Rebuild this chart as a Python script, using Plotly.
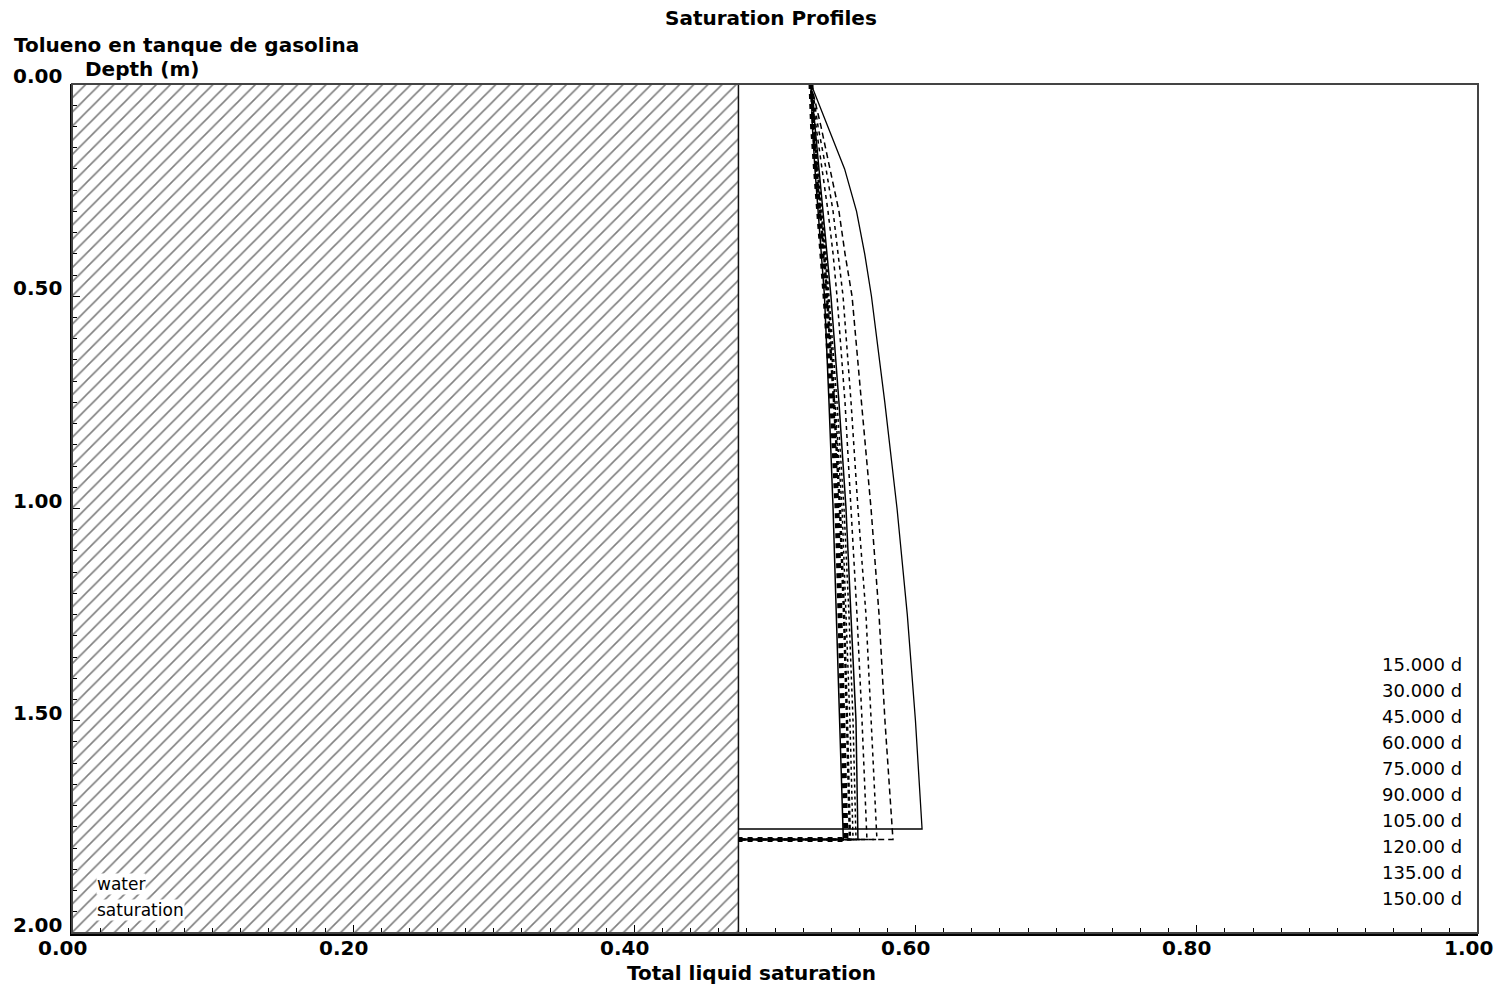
import plotly.graph_objects as go

# Simulation times (days) and their labels
time_labels = ["15.000 d", "30.000 d", "45.000 d", "60.000 d", "75.000 d",
               "90.000 d", "105.00 d", "120.00 d", "135.00 d", "150.00 d"]

# Depths (m) at which the profiles are sampled
depth_grid = [0.0, 0.05, 0.1, 0.2, 0.3, 0.4, 0.5, 0.75, 1.0, 1.25, 1.5]

# Depth of the bottom of each profile (m)
bottom_depth = [1.755, 1.78, 1.78, 1.78, 1.78, 1.78, 1.78, 1.78, 1.78, 1.78]

# Total liquid saturation for each time, at depth_grid then at bottom_depth
sat_15 = [0.5256, 0.5316, 0.5371, 0.5495, 0.5580, 0.5638, 0.5686, 0.5781, 0.5868, 0.5941, 0.5999, 0.6046]
sat_30 = [0.5256, 0.5292, 0.5327, 0.5391, 0.5455, 0.5498, 0.5548, 0.5615, 0.5683, 0.5740, 0.5782, 0.5839]
sat_45 = [0.5256, 0.5284, 0.5306, 0.5363, 0.5413, 0.5448, 0.5484, 0.5541, 0.5590, 0.5647, 0.5683, 0.5725]
sat_60 = [0.5256, 0.5277, 0.5292, 0.5334, 0.5377, 0.5413, 0.5441, 0.5498, 0.5541, 0.5583, 0.5619, 0.5654]
sat_75 = [0.5256, 0.5270, 0.5284, 0.5313, 0.5341, 0.5370, 0.5398, 0.5455, 0.5505, 0.5540, 0.5576, 0.5590]
sat_90 = [0.5256, 0.5267, 0.5277, 0.5306, 0.5334, 0.5363, 0.5384, 0.5441, 0.5491, 0.5526, 0.5555, 0.5576]
sat_105 = [0.5256, 0.5263, 0.5274, 0.5299, 0.5327, 0.5356, 0.5377, 0.5427, 0.5477, 0.5505, 0.5533, 0.5555]
sat_120 = [0.5256, 0.5263, 0.5270, 0.5292, 0.5320, 0.5349, 0.5370, 0.5420, 0.5462, 0.5491, 0.5512, 0.5533]
sat_135 = [0.5256, 0.5260, 0.5267, 0.5288, 0.5313, 0.5334, 0.5356, 0.5405, 0.5441, 0.5462, 0.5484, 0.5505]
sat_150 = [0.5256, 0.5260, 0.5266, 0.5284, 0.5306, 0.5330, 0.5352, 0.5384, 0.5413, 0.5436, 0.5462, 0.5486]

profiles = [sat_15, sat_30, sat_45, sat_60, sat_75, sat_90, sat_105, sat_120, sat_135, sat_150]

# Residual water saturation (hatched band)
water_sat = 0.474

# Axis tick values
x_ticks = [0.0, 0.2, 0.4, 0.6, 0.8, 1.0]
y_ticks = [0.0, 0.5, 1.0, 1.5, 2.0]

# Pen styles for the profiles
styles = [
    dict(width=1.3, dash="solid"),
    dict(width=1.5, dash="6px,4px"),
    dict(width=1.5, dash="4px,4px"),
    dict(width=1.5, dash="4px,4px"),
    dict(width=1.5, dash="solid"),
    dict(width=1.5, dash="3px,3px"),
    dict(width=1.5, dash="3px,3px"),
    dict(width=2.5, dash="4px,3px"),
    dict(width=5.0, dash="5px,5px"),
    dict(width=1.5, dash="solid"),
]

FONT = "DejaVu Sans"
BOLD = dict(family=FONT, size=20, color="black", weight="bold")
fig = go.Figure()

# Hatched water-saturation region
fig.add_trace(go.Scatter(
    x=[0, water_sat, water_sat, 0, 0], y=[0, 0, 2, 2, 0],
    mode="lines", fill="toself",
    fillcolor="white",
    fillpattern=dict(shape="/", size=10, solidity=0.16, fgcolor="black", bgcolor="white"),
    line=dict(color="#111", width=1.5),
    hoverinfo="skip", showlegend=False,
))

for name, sat, bot, st in zip(time_labels, profiles, bottom_depth, styles):
    xs = list(sat) + [water_sat]
    ys = list(depth_grid) + [bot, bot]
    fig.add_trace(go.Scatter(
        x=xs, y=ys, mode="lines", name=name,
        line=dict(color="black", width=st["width"], dash=st["dash"]),
        showlegend=False,
    ))

W, H = 1505, 990
ML, MR, MT, MB = 72, 27, 84, 57
pw, ph = W - ML - MR, H - MT - MB


def px(xp):
    return (xp - ML) / pw


def py(yp):
    return (H - MB - yp) / ph


annotations = []
# Tick labels
for v in x_ticks:
    annotations.append(dict(x=v, y=py(948), xref="x", yref="paper", text=f"{v:.2f}",
                            showarrow=False, yanchor="middle", xanchor="center",
                            xshift=-10, font=BOLD))
for v in y_ticks:
    annotations.append(dict(x=px(64), y=v, xref="paper", yref="y", text=f"{v:.2f}",
                            showarrow=False, xanchor="right", yanchor="middle",
                            yshift=8, font=BOLD))

# Legend of simulation times
for i, lab in enumerate(time_labels):
    annotations.append(dict(x=px(1464), y=py(664 + 26 * i), xref="paper", yref="paper",
                            text=lab, showarrow=False, xanchor="right", yanchor="middle",
                            font=dict(family=FONT, size=18, color="black")))


def caption(text, x, y, xanchor="left", **kw):
    return dict(text=text, x=px(x), y=py(y), xref="paper", yref="paper",
                showarrow=False, xanchor=xanchor, yanchor="middle", **kw)


annotations += [
    caption("Saturation Profiles", 771, 18, "center", font=BOLD),
    caption("Tolueno en tanque de gasolina", 12, 45, font=BOLD),
    caption("Depth (m)", 83, 69, font=BOLD),
    caption("Total liquid saturation", 751, 973, "center", font=BOLD),
    caption("water", 96, 884, bgcolor="white", borderpad=0,
            font=dict(family=FONT, size=17, color="black")),
    caption("saturation", 96, 910, bgcolor="white", borderpad=0,
            font=dict(family=FONT, size=17, color="black")),
]

fig.update_layout(
    width=W, height=H,
    margin=dict(l=ML, r=MR, t=MT, b=MB, pad=0),
    paper_bgcolor="white", plot_bgcolor="white",
    showlegend=False,
    annotations=annotations,
    xaxis=dict(range=[0, 1], showgrid=False, zeroline=False, showticklabels=False,
               ticks="inside", tickvals=x_ticks, ticklen=8, tickcolor="black", tickwidth=1,
               minor=dict(dtick=0.02, ticks="inside", ticklen=5, tickcolor="black", tickwidth=1),
               showline=True, linecolor="black", linewidth=3),
    yaxis=dict(range=[2, 0], showgrid=False, zeroline=False, showticklabels=False,
               ticks="inside", tickvals=y_ticks, ticklen=8, tickcolor="black", tickwidth=1,
               minor=dict(dtick=0.05, ticks="inside", ticklen=5, tickcolor="black", tickwidth=1),
               showline=True, linecolor="black", linewidth=2),
    shapes=[dict(type="rect", xref="paper", yref="paper", x0=0, x1=1, y0=0, y1=1,
                 line=dict(color="#444", width=2), layer="above")],
)

fig.write_html("out.html")
